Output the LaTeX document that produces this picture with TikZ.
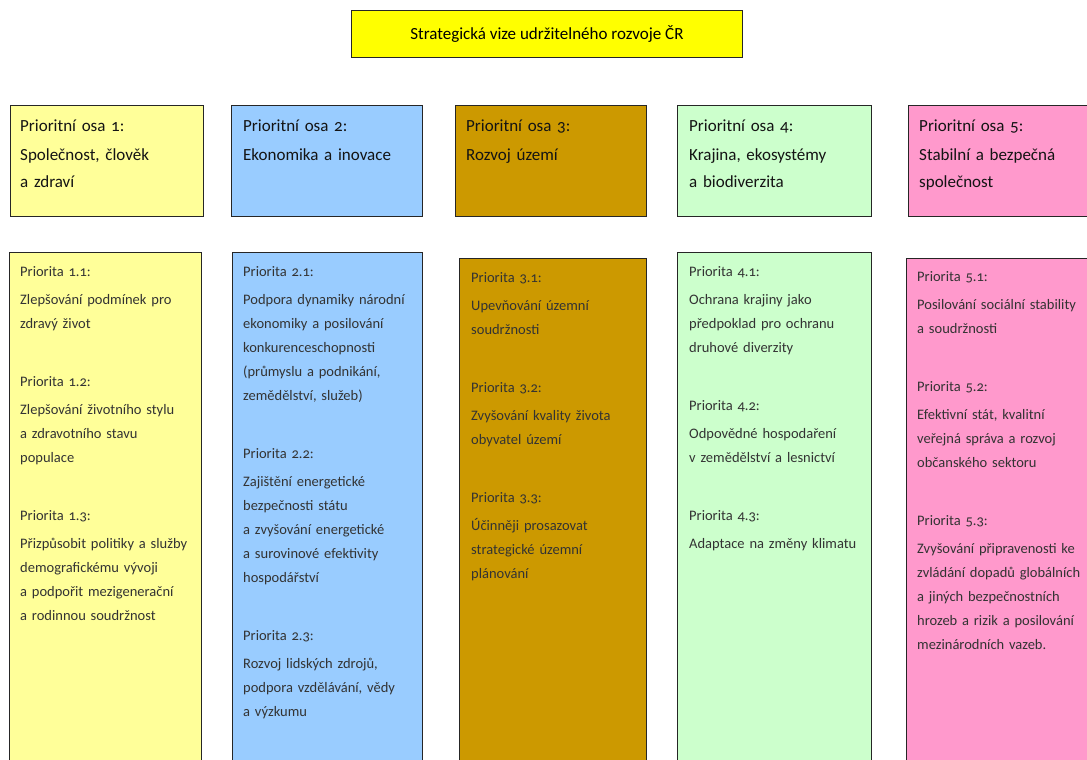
\documentclass[tikz,border=0pt]{standalone}
\usepackage{fontspec}
\setmainfont{Carlito}[Numbers=OldStyle]
\usetikzlibrary{positioning}
\definecolor{vize}{HTML}{FFFF00}
\definecolor{osaI}{HTML}{FFFF99}
\definecolor{osaII}{HTML}{99CCFF}
\definecolor{osaIII}{HTML}{CC9900}
\definecolor{osaIV}{HTML}{CCFFCC}
\definecolor{osaV}{HTML}{FF99CC}

\begin{document}
\begin{tikzpicture}[x=1pt,y=-1pt,
    ramec/.style={draw=black!85, line width=0.8pt, anchor=north west, inner sep=0pt},
    osabox/.style={ramec, minimum height=111pt},
    prioritabox/.style={ramec, minimum height=560pt},
    nadpis/.style={anchor=base west, inner sep=0pt, text width=185pt, align=left,
        font=\fontsize{17}{27}\selectfont, text=black!92},
    popis/.style={anchor=base west, inner sep=0pt, text width=185pt, align=left,
        font=\fontsize{14.5}{24}\selectfont, text=black!80}]
            \useasboundingbox (0,0) rectangle (1087,760);
            \clip (0,0) rectangle (1087,760);

            \node[ramec, fill=vize, minimum width=391pt, minimum height=47pt] (vize) at (351,10) {};
            \node[font=\fontsize{17}{20}\selectfont] (vizet) at (vize.center) {Strategická vize udržitelného rozvoje ČR};

            \node[osabox, fill=osaI, minimum width=193pt] (osa1) at (10,105) {};
            \node[osabox, fill=osaII, minimum width=191pt] (osa2) at (231,105) {};
            \node[osabox, fill=osaIII, minimum width=191pt] (osa3) at (455,105) {};
            \node[osabox, fill=osaIV, minimum width=194pt] (osa4) at (677,105) {};
            \node[osabox, fill=osaV, minimum width=200pt] (osa5) at (908,105) {};

            \node[nadpis] (osa1t) at (20,131) {Prioritní osa 1:\\[2pt] Společnost, člověk\\ a zdraví};
            \node[nadpis] (osa2t) at (243,131) {Prioritní osa 2:\\[2pt] Ekonomika a inovace};
            \node[nadpis] (osa3t) at (466,131) {Prioritní osa 3:\\[2pt] Rozvoj území};
            \node[nadpis] (osa4t) at (689,131) {Prioritní osa 4:\\[2pt] Krajina, ekosystémy\\ a biodiverzita};
            \node[nadpis] (osa5t) at (919,131) {Prioritní osa 5:\\[2pt] Stabilní a bezpečná\\ společnost};

            \node[prioritabox, fill=osaI, minimum width=192pt] (pri1) at (9,252) {};
            \node[prioritabox, fill=osaII, minimum width=190pt] (pri2) at (232,252) {};
            \node[prioritabox, fill=osaIII, minimum width=187pt] (pri3) at (459,258) {};
            \node[prioritabox, fill=osaIV, minimum width=194pt] (pri4) at (677,252) {};
            \node[prioritabox, fill=osaV, minimum width=200pt] (pri5) at (906,258) {};

            \node[popis] (pri1t) at (20,276) {Priorita 1.1:\\[4.5pt]
                Zlepšování podmínek pro\\ zdravý život\\[33.5pt]
                Priorita 1.2:\\[4.5pt]
                Zlepšování životního stylu\\ a zdravotního stavu\\ populace\\[33.5pt]
                Priorita 1.3:\\[4.5pt]
                Přizpůsobit politiky a služby\\ demografickému vývoji\\ a podpořit mezigenerační\\ a rodinnou soudržnost};
            \node[popis] (pri2t) at (243,276) {Priorita 2.1:\\[4.5pt]
                Podpora dynamiky národní\\ ekonomiky a posilování\\ konkurenceschopnosti\\ (průmyslu a podnikání,\\ zemědělství, služeb)\\[33.5pt]
                Priorita 2.2:\\[4.5pt]
                Zajištění energetické\\ bezpečnosti státu\\ a zvyšování energetické\\ a surovinové efektivity\\ hospodářství\\[33.5pt]
                Priorita 2.3:\\[4.5pt]
                Rozvoj lidských zdrojů,\\ podpora vzdělávání, vědy\\ a výzkumu};
            \node[popis] (pri3t) at (471,282) {Priorita 3.1:\\[4.5pt]
                Upevňování územní\\ soudržnosti\\[33.5pt]
                Priorita 3.2:\\[4.5pt]
                Zvyšování kvality života\\ obyvatel území\\[33.5pt]
                Priorita 3.3:\\[4.5pt]
                Účinněji prosazovat\\ strategické územní\\ plánování};
            \node[popis] (pri4t) at (689,276) {Priorita 4.1:\\[4.5pt]
                Ochrana krajiny jako\\ předpoklad pro ochranu\\ druhové diverzity\\[33.5pt]
                Priorita 4.2:\\[4.5pt]
                Odpovědné hospodaření\\ v zemědělství a lesnictví\\[33.5pt]
                Priorita 4.3:\\[4.5pt]
                Adaptace na změny klimatu};
            \node[popis] (pri5t) at (917,281) {Priorita 5.1:\\[4.5pt]
                Posilování sociální stability\\ a soudržnosti\\[33.5pt]
                Priorita 5.2:\\[4.5pt]
                Efektivní stát, kvalitní\\ veřejná správa a rozvoj\\ občanského sektoru\\[33.5pt]
                Priorita 5.3:\\[4.5pt]
                Zvyšování připravenosti ke\\ zvládání dopadů globálních\\ a jiných bezpečnostních\\ hrozeb a rizik a posilování\\ mezinárodních vazeb.};
        \end{tikzpicture}
\end{document}
